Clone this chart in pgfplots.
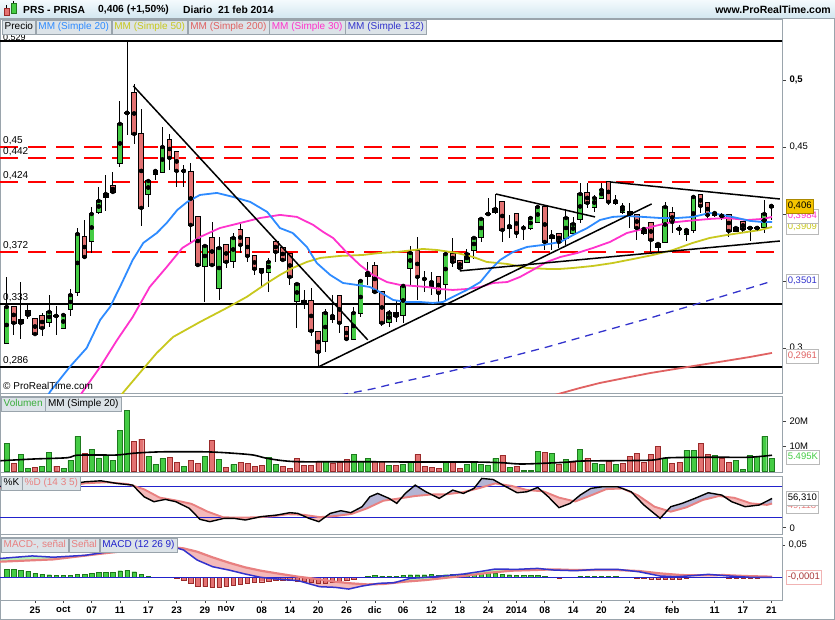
\documentclass[border=0pt]{standalone}
\usepackage{pgfplots}
\pgfplotsset{compat=1.18}
\usepackage{pgfplotstable}
\usepgfplotslibrary{fillbetween}
\usepackage{fontspec}
\setmainfont{Liberation Sans}

\definecolor{cgreen}{HTML}{44CC44}
\definecolor{cgreenD}{HTML}{1E7A1E}
\definecolor{cred}{HTML}{E37272}
\definecolor{credD}{HTML}{9A2A2A}
\definecolor{ma20}{HTML}{2E8BFF}
\definecolor{ma50}{HTML}{C8C81E}
\definecolor{ma200}{HTML}{E06262}
\definecolor{ma30}{HTML}{FF33CC}
\definecolor{ma132}{HTML}{3333CC}
\definecolor{frame}{HTML}{9AA4AC}
\definecolor{legbg}{HTML}{DCE3E8}
\definecolor{salmon}{HTML}{E88080}
\definecolor{kfill}{HTML}{B4B4D4}
\definecolor{dfill}{HTML}{F4BABA}
\definecolor{mfill}{HTML}{B8F2B8}
\definecolor{gold}{HTML}{F5C400}
\definecolor{lblue}{HTML}{2222CC}
\definecolor{hdrtop}{HTML}{F4FAFD}
\definecolor{hdrbot}{HTML}{D3E7F0}
\definecolor{dred}{HTML}{FF0000}

\pgfplotstableread{
i o h l c
-4 0.3037 0.3530 0.3037 0.3306
2 0.3194 0.3395 0.3157 0.3269
3 0.3239 0.3313 0.3097 0.3239
4 0.3149 0.3246 0.3149 0.3246
5 0.3291 0.3440 0.3239 0.3395
6 0.3418 0.3895 0.3388 0.3851
8 0.3798 0.4052 0.3709 0.4000
9 0.4015 0.4201 0.4000 0.4097
10 0.4127 0.4291 0.4022 0.4149
12 0.4381 0.4843 0.4351 0.4672
13 0.4754 0.5291 0.4590 0.4754
16 0.4149 0.4254 0.4052 0.4246
17 0.4298 0.4321 0.4254 0.4321
18 0.4313 0.4649 0.4313 0.4500
21 0.4321 0.4366 0.4201 0.4321
24 0.3612 0.3761 0.3343 0.3761
26 0.3448 0.3828 0.3358 0.3746
28 0.3649 0.3858 0.3597 0.3821
33 0.3567 0.3672 0.3418 0.3642
37 0.3351 0.3477 0.3149 0.3477
41 0.3052 0.3291 0.2970 0.3261
42 0.3216 0.3395 0.3187 0.3239
45 0.3067 0.3306 0.3067 0.3261
46 0.3261 0.3507 0.3231 0.3500
47 0.3537 0.3642 0.3470 0.3560
50 0.3194 0.3284 0.3157 0.3261
52 0.3246 0.3463 0.3187 0.3463
53 0.3597 0.3761 0.3470 0.3709
55 0.3515 0.3575 0.3418 0.3515
56 0.3463 0.3567 0.3395 0.3492
58 0.3477 0.3701 0.3358 0.3701
61 0.3642 0.3739 0.3642 0.3701
62 0.3731 0.3821 0.3664 0.3821
63 0.3828 0.3963 0.3791 0.3963
64 0.4000 0.4119 0.3992 0.4000
65 0.4015 0.4149 0.4000 0.4037
67 0.3895 0.3992 0.3821 0.3910
69 0.3895 0.3918 0.3806 0.3895
70 0.3895 0.3970 0.3880 0.3970
71 0.3940 0.4052 0.3940 0.4052
73 0.3821 0.3880 0.3731 0.3836
75 0.3821 0.4037 0.3769 0.3970
76 0.3858 0.3978 0.3858 0.3925
77 0.3963 0.4231 0.3933 0.4149
79 0.4052 0.4142 0.4015 0.4119
80 0.4119 0.4231 0.4119 0.4179
82 0.4082 0.4142 0.4067 0.4097
83 0.4015 0.4082 0.4000 0.4052
86 0.3858 0.3888 0.3843 0.3888
88 0.3754 0.3776 0.3716 0.3776
89 0.3791 0.4090 0.3791 0.4052
91 0.3888 0.3918 0.3843 0.3888
92 0.3851 0.3880 0.3798 0.3880
93 0.3880 0.4127 0.3858 0.4127
96 0.3992 0.4015 0.3978 0.4007
97 0.3985 0.4007 0.3955 0.3985
99 0.3873 0.3895 0.3866 0.3895
101 0.3895 0.3895 0.3798 0.3895
102 0.3895 0.3910 0.3880 0.3895
103 0.3903 0.4104 0.3858 0.4000
104 0.4052 0.4060 0.3955 0.4060
}\up

\pgfplotstableread{
i o h l c
-3 0.3306 0.3306 0.3097 0.3187
-2 0.3209 0.3492 0.3067 0.3187
-1 0.3276 0.3321 0.3216 0.3246
0 0.3216 0.3216 0.3104 0.3104
1 0.3239 0.3261 0.3089 0.3149
7 0.3828 0.3955 0.3664 0.3679
11 0.4209 0.4313 0.4149 0.4164
14 0.4903 0.4970 0.4522 0.4597
15 0.4597 0.4784 0.3910 0.4045
19 0.4552 0.4597 0.4328 0.4418
20 0.4463 0.4463 0.4201 0.4321
22 0.4313 0.4381 0.3776 0.3918
23 0.3978 0.3978 0.3619 0.3619
25 0.3821 0.3940 0.3604 0.3619
27 0.3769 0.3769 0.3597 0.3642
29 0.3880 0.3940 0.3709 0.3769
30 0.3821 0.3821 0.3642 0.3686
31 0.3686 0.3686 0.3545 0.3590
32 0.3590 0.3590 0.3448 0.3567
34 0.3791 0.3791 0.3642 0.3716
35 0.3746 0.3746 0.3657 0.3657
36 0.3701 0.3701 0.3470 0.3530
38 0.3351 0.3433 0.3291 0.3336
39 0.3351 0.3448 0.3089 0.3127
40 0.3119 0.3119 0.2858 0.2970
43 0.3388 0.3395 0.3112 0.3187
44 0.3157 0.3157 0.3067 0.3067
48 0.3612 0.3642 0.3403 0.3418
49 0.3418 0.3425 0.3164 0.3187
51 0.3261 0.3351 0.3194 0.3239
54 0.3724 0.3828 0.3358 0.3530
57 0.3530 0.3530 0.3343 0.3410
59 0.3701 0.3821 0.3604 0.3642
60 0.3649 0.3649 0.3597 0.3597
66 0.4090 0.4090 0.3791 0.3880
68 0.4000 0.4000 0.3821 0.3858
72 0.4052 0.4052 0.3731 0.3791
74 0.3851 0.3851 0.3746 0.3791
78 0.4157 0.4231 0.4045 0.4082
81 0.4239 0.4239 0.4067 0.4090
84 0.4015 0.4082 0.3895 0.4000
85 0.3992 0.3992 0.3806 0.3895
87 0.3933 0.3933 0.3716 0.3806
90 0.4007 0.4052 0.3858 0.3940
94 0.4142 0.4149 0.4007 0.4060
95 0.4082 0.4082 0.3955 0.3992
98 0.3992 0.3992 0.3828 0.3873
100 0.3940 0.3940 0.3866 0.3888
}\dn

% Stochastic %K and %D
\pgfplotstableread{
x y
-4.9 79.5
1.1 73.7
4.1 82.0
7.1 88.4
9.3 90.3
11.6 85.2
13.8 82.0
15.4 59.6
16.8 50.1
18.4 54.5
19.9 50.1
21.8 37.3
23.3 16.2
24.7 11.7
26.7 18.1
28.1 18.1
29.7 14.9
31.9 21.3
34.2 24.5
36.0 29.0
37.1 27.7
38.7 18.1
40.1 11.7
41.7 27.7
43.2 32.8
44.6 29.0
46.2 40.5
47.3 59.6
48.4 66.0
50.0 56.5
51.1 46.9
52.3 66.0
53.7 82.0
55.2 69.2
57.1 56.5
59.0 72.4
60.5 66.0
62.0 75.6
63.1 94.8
64.7 92.8
66.1 82.0
68.1 67.3
69.5 69.2
71.0 77.5
72.5 59.6
74.0 38.6
75.6 46.9
77.0 62.8
78.5 75.6
80.1 78.8
82.3 78.8
84.2 69.2
86.0 43.7
88.3 18.1
89.8 40.5
91.4 46.9
93.2 56.5
95.1 67.3
97.0 62.8
98.4 50.1
100.3 40.5
102.3 43.7
104.1 56.3
}\stK

\pgfplotstableread{
x y
-4.9 77.0
1.1 76.0
4.1 79.0
7.1 85.5
10.1 87.5
13.1 84.0
15.4 74.0
17.6 58.0
19.9 52.5
22.1 46.0
24.4 30.9
26.6 20.0
28.9 19.5
31.2 20.0
33.4 22.0
35.7 26.0
37.9 25.0
40.2 20.5
42.4 22.5
44.7 26.5
46.9 37.3
49.2 52.0
51.5 56.5
53.7 61.0
56.0 64.0
58.2 64.5
60.5 68.5
62.7 76.0
65.0 85.2
67.3 80.5
69.5 72.5
71.8 70.0
74.0 58.0
76.3 50.5
78.5 62.0
80.7 74.3
83.0 75.5
85.2 62.0
87.5 40.5
89.8 30.9
92.0 39.2
94.3 53.3
96.6 61.0
98.8 57.5
101.1 46.9
103.4 44.0
104.1 46.5
}\stD

% MACD line and signal
\pgfplotstableread{
x y
-4.94 0.0290
-0.4 0.0330
2.6 0.0310
7.1 0.0340
10.1 0.0390
13 0.0460
16 0.0500
19 0.0490
21.0 0.0422
22.9 0.0266
25.1 0.0161
27.4 0.0109
29.7 0.0047
31.9 -0.0005
34.2 -0.0031
37.2 -0.0057
40.2 -0.0151
42.4 -0.0161
44.3 -0.0188
46.2 -0.0141
48.5 -0.0099
50.7 -0.0089
53.0 -0.0021
55.2 -0.0005
57.5 0.0016
60.5 0.0047
62.7 0.0083
65.0 0.0125
68.0 0.0120
71.0 0.0135
73.3 0.0109
76.3 0.0099
79.3 0.0120
82.3 0.0120
85.3 0.0083
88.3 0.0016
90.6 0.0005
92.8 0.0021
95.1 0.0042
98.1 0.0016
101.1 -0.0005
104.1 -0.0004
}\macdM

\pgfplotstableread{
x y
-4.94 0.0240
2.6 0.0276
10.1 0.0375
13 0.0410
16 0.0450
19 0.0470
21.0 0.0448
22.9 0.0396
25.1 0.0307
27.4 0.0224
29.7 0.0151
31.9 0.0099
34.2 0.0057
37.2 0.0005
40.2 -0.0036
42.4 -0.0073
44.7 -0.0099
46.9 -0.0115
49.2 -0.0109
52.2 -0.0073
55.2 -0.0047
58.2 -0.0010
61.2 0.0026
64.2 0.0068
67.3 0.0099
70.3 0.0109
73.3 0.0120
76.3 0.0109
79.3 0.0109
82.3 0.0109
85.3 0.0094
88.3 0.0057
91.3 0.0031
94.3 0.0026
97.3 0.0031
100.3 0.0016
104.1 0.0005
}\macdS

\pgfplotsset{
  panel/.style={scale only axis, width=782pt, xmin=-4.944, xmax=105.51,
    axis line style={draw=frame, line width=0.6pt},
    xtick=\empty, ytick pos=right, yticklabel pos=right,
    scaled y ticks=false, scaled x ticks=false,
    tick align=outside, major tick length=4pt,
    tick style={draw=black!75, line width=0.6pt},
    yticklabel style={font=\fontsize{9.5}{10}\selectfont},
    anchor=south west},
  wick/.style={only marks, mark=none, forget plot,
    error bars/.cd, y dir=both, y explicit, error mark=none,
    error bar style={black, line width=1pt}},
  body/.style={only marks, mark=none, forget plot,
    error bars/.cd, y dir=both, y explicit, error mark=none,
    error bar style={#1}},
  hline/.style={line width=1.6pt, black},
  rline/.style={line width=1.7pt, draw=dred, dash pattern=on 18pt off 10pt},
  tline/.style={line width=1.5pt, black},
}

\begin{document}
\begin{tikzpicture}
\path (0,0) rectangle (835pt,-620pt);
\begin{scope}[x=1pt,y=-1pt]
\shade[top color=hdrtop, bottom color=hdrbot] (0,0) rectangle (835,18);
\draw[frame, line width=0.6pt] (0,18.3) -- (835,18.3);
\draw[frame, line width=0.6pt] (834.3,18.3) -- (834.3,619.3) -- (0.3,619.3) -- (0.3,18.3);
\end{scope}

% ---------------- PRICE PANEL ----------------
\begin{axis}[panel, height=374pt, at={(0pt,-393pt)},
  ymin=0.2664, ymax=0.5455,
  ytick={0.3,0.35,0.4,0.45,0.5},
  yticklabels={{0,3},{},{},{0,45},{\bfseries 0,5}}]
\addplot[hline] coordinates {(-6,0.529) (106,0.529)};
\addplot[hline] coordinates {(-6,0.333) (106,0.333)};
\addplot[hline] coordinates {(-6,0.286) (106,0.286)};
\addplot[rline] coordinates {(-4.94,0.45) (106,0.45)};
\addplot[rline] coordinates {(-4.94,0.4418) (106,0.4418)};
\addplot[rline] coordinates {(-4.94,0.424) (106,0.424)};
\addplot[rline] coordinates {(-4.94,0.3718) (106,0.3718)};
% candles
\addplot[wick] table[x=i, y=c, y error plus expr=\thisrow{h}-\thisrow{c}, y error minus expr=\thisrow{c}-\thisrow{l}] {\up};
\addplot[wick] table[x=i, y=c, y error plus expr=\thisrow{h}-\thisrow{c}, y error minus expr=\thisrow{c}-\thisrow{l}] {\dn};
\addplot[body={black, line width=5.6pt}] table[x=i, y expr=(\thisrow{o}+\thisrow{c})/2, y error expr=abs(\thisrow{o}-\thisrow{c})/2+0.0006] {\up};
\addplot[body={black, line width=5.6pt}] table[x=i, y expr=(\thisrow{o}+\thisrow{c})/2, y error expr=abs(\thisrow{o}-\thisrow{c})/2+0.0006] {\dn};
\addplot[body={cgreen, line width=3.8pt}] table[x=i, y expr=(\thisrow{o}+\thisrow{c})/2, y error expr=abs(\thisrow{o}-\thisrow{c})/2] {\up};
\addplot[body={cred, line width=3.8pt}] table[x=i, y expr=(\thisrow{o}+\thisrow{c})/2, y error expr=abs(\thisrow{o}-\thisrow{c})/2] {\dn};
% MA 200
\addplot[ma200, line width=1.8pt] coordinates {(73.4,0.2649) (77.0,0.2702) (79.8,0.2739) (83.3,0.2776) (86.9,0.2813) (90.4,0.2843) (93.9,0.2873) (97.5,0.2903) (101.0,0.2933) (104.1,0.2963)};
% MA 132 dashed
\addplot[ma132, line width=1.3pt, dash pattern=on 8pt off 6pt] coordinates {(43.1,0.2649) (47.6,0.2694) (51.1,0.2739) (58.2,0.2821) (65.3,0.2910) (72.3,0.3007) (79.8,0.3119) (86.9,0.3224) (92.5,0.3313) (96.8,0.3381) (104.2,0.3500)};
% MA 50
\addplot[ma50, line width=1.8pt] coordinates {(10.6,0.2538) (12.4,0.2664) (14.8,0.2814) (17.2,0.2963) (19.5,0.3082) (23.3,0.3194) (27.1,0.3299) (29.9,0.3381) (32.8,0.3485) (34.6,0.3545) (36.4,0.3597) (38.4,0.3642) (40.3,0.3672) (43.1,0.3687) (46.3,0.3694) (48.7,0.3709) (51.1,0.3716) (54.8,0.3739) (56.8,0.3731) (59.6,0.3709) (61.9,0.3679) (63.8,0.3642) (66.7,0.3627) (69.5,0.3597) (72.3,0.3590) (74.2,0.3590) (76.0,0.3597) (78.8,0.3612) (81.6,0.3634) (84.5,0.3664) (87.3,0.3694) (90.1,0.3731) (92.9,0.3784) (95.3,0.3821) (97.7,0.3843) (100.6,0.3866) (102.4,0.3880) (104.1,0.3903)};
% MA 30
\addplot[ma30, line width=1.8pt] coordinates {(5.6,0.2538) (6.6,0.2664) (9.2,0.2858) (11.6,0.3060) (13.8,0.3231) (16.2,0.3455) (18.6,0.3604) (20.8,0.3746) (23.3,0.3828) (26.1,0.3895) (29.0,0.3933) (31.8,0.3970) (34.6,0.3993) (37.0,0.3978) (39.3,0.3918) (40.7,0.3866) (42.1,0.3821) (44.1,0.3709) (45.9,0.3619) (47.7,0.3545) (49.7,0.3492) (51.6,0.3470) (53.4,0.3463) (55.4,0.3455) (57.2,0.3440) (59.0,0.3433) (61.0,0.3440) (62.9,0.3455) (64.7,0.3485) (66.7,0.3492) (68.5,0.3530) (70.3,0.3582) (72.3,0.3642) (74.2,0.3679) (76.6,0.3709) (78.8,0.3746) (81.2,0.3791) (83.6,0.3858) (86.4,0.3895) (89.3,0.3933) (92.1,0.3948) (95.3,0.3963) (97.7,0.3970) (100.6,0.3955) (102.8,0.3963) (104.1,0.3978)};
% MA 20
\addplot[ma20, line width=1.8pt] coordinates {(0.7,0.2538) (2.1,0.2672) (4.9,0.2858) (7.3,0.3000) (9.2,0.3209) (10.6,0.3306) (12.0,0.3455) (13.8,0.3657) (15.3,0.3784) (17.2,0.3858) (18.6,0.3933) (20.1,0.4030) (21.5,0.4090) (23.3,0.4142) (25.7,0.4157) (28.0,0.4127) (30.4,0.4090) (32.8,0.4015) (34.6,0.3895) (36.4,0.3858) (38.4,0.3754) (39.8,0.3634) (41.7,0.3545) (43.5,0.3485) (45.5,0.3470) (47.3,0.3455) (48.7,0.3418) (50.6,0.3358) (52.5,0.3343) (54.4,0.3343) (56.2,0.3336) (57.6,0.3343) (59.0,0.3381) (61.0,0.3433) (62.9,0.3492) (64.3,0.3582) (65.7,0.3657) (67.5,0.3716) (69.5,0.3754) (71.8,0.3769) (74.2,0.3791) (76.0,0.3843) (78.0,0.3895) (79.8,0.3955) (81.6,0.3978) (83.6,0.3985) (85.9,0.3978) (88.3,0.3970) (90.7,0.3970) (92.9,0.3978) (95.3,0.4007) (97.2,0.3992) (99.2,0.3970) (101.0,0.3948) (102.8,0.3940) (104.1,0.3940)};
% trend lines
\addplot[tline] coordinates {(13.9,0.4955) (47.0,0.3060)};
\addplot[tline] coordinates {(40.0,0.2858) (87.1,0.4075)};
\addplot[tline] coordinates {(65.1,0.4149) (79.1,0.3978)};
\addplot[tline] coordinates {(60.0,0.3575) (105.2,0.3798)};
\addplot[tline] coordinates {(81.2,0.4239) (105.2,0.4112)};
\end{axis}

% ---------------- VOLUME PANEL ----------------
\begin{axis}[panel, height=76pt, at={(0pt,-472pt)},
  ymin=-0.4, ymax=30, ytick={10,20}, yticklabels={10M,20M}]
\addplot[ybar, bar width=5pt, bar shift=0pt, fill=cgreen, draw=cgreenD, line width=0.4pt] coordinates {(-4,11.1) (-2,6.7) (-1,1.1) (1,1.9) (2,7.5) (4,1.1) (5,4.3) (6,13.9) (8,8.8) (9,5.3) (10,6.4) (11,4.3) (12,16.4) (13,24.3) (16,5.9) (17,2.7) (18,5.1) (21,2.0) (24,5.9) (26,4.7) (28,2.7) (33,5.5) (34,2.7) (41,3.9) (45,6.7) (46,3.9) (47,5.1) (50,2.3) (52,2.7) (53,3.9) (58,3.5) (61,2.7) (62,3.7) (63,2.7) (64,2.3) (65,5.1) (67,1.5) (69,0.3) (70,0.3) (71,7.9) (73,7.1) (75,4.7) (77,8.7) (79,3.1) (80,2.7) (82,2.7) (89,5.1) (92,8.3) (93,8.3) (96,6.3) (99,4.3) (100,0.7) (101,6.3) (102,5.9) (103,13.9) (104,5.1)};
\addplot[ybar, bar width=5pt, bar shift=0pt, fill=cred, draw=credD, line width=0.4pt] coordinates {(-3,3.1) (0,1.5) (3,2.0) (7,7.1) (14,11.9) (15,12.8) (19,5.5) (20,3.5) (22,4.3) (23,3.1) (25,12.4) (27,1.6) (29,3.5) (30,3.1) (31,2.0) (32,2.3) (35,2.0) (36,1.1) (37,5.1) (38,2.3) (39,2.3) (40,3.9) (42,3.3) (43,3.7) (44,4.7) (48,3.9) (49,3.9) (51,2.3) (54,6.7) (55,1.9) (56,1.5) (57,1.1) (59,3.5) (60,1.1) (66,6.3) (68,1.9) (72,7.5) (74,2.7) (76,3.5) (78,5.1) (81,3.9) (83,3.1) (84,5.9) (85,7.1) (86,3.5) (87,6.7) (88,9.9) (90,3.1) (91,3.5) (94,11.1) (95,6.7) (97,5.1) (98,3.5)};
\addplot[black, line width=1.6pt, smooth] coordinates {(-4.9,4.1) (-0.2,4.8) (4.5,5.3) (5.9,6.3) (9.2,6.4) (11.6,6.4) (13.9,7.1) (16.2,7.5) (18.6,7.7) (23.3,7.7) (25.7,7.5) (28.0,7.1) (30.8,6.4) (32.7,5.1) (35.1,4.1) (37.4,3.7) (42.1,3.7) (46.9,3.7) (53.2,3.6) (62,3.6) (66,3.3) (68.9,2.8) (74.9,3.5) (77.3,4.0) (86.7,4.3) (89.5,5.3) (96.1,5.5) (100.8,5.5) (104.1,6.3)};
\end{axis}

% ---------------- STOCHASTIC PANEL ----------------
\begin{axis}[panel, height=58pt, at={(0pt,-534pt)},
  ymin=-12, ymax=99.5, ytick={0}, yticklabels={0}]
\addplot[name path=K, draw=none, forget plot] table {\stK};
\addplot[name path=D, draw=none, forget plot] table {\stD};
\addplot[fill=kfill, draw=none] fill between[of=K and D];
\addplot[fill=dfill, draw=none] fill between[of=K and D, soft clip={domain=-2:3}];
\addplot[fill=dfill, draw=none] fill between[of=K and D, soft clip={domain=14:31.5}];
\addplot[fill=dfill, draw=none] fill between[of=K and D, soft clip={domain=37.8:41}];
\addplot[fill=dfill, draw=none] fill between[of=K and D, soft clip={domain=50.3:51.6}];
\addplot[fill=dfill, draw=none] fill between[of=K and D, soft clip={domain=56.2:58}];
\addplot[fill=dfill, draw=none] fill between[of=K and D, soft clip={domain=60:61.7}];
\addplot[fill=dfill, draw=none] fill between[of=K and D, soft clip={domain=65.9:70.3}];
\addplot[fill=dfill, draw=none] fill between[of=K and D, soft clip={domain=71.9:76.4}];
\addplot[fill=dfill, draw=none] fill between[of=K and D, soft clip={domain=84.3:89.1}];
\addplot[fill=dfill, draw=none] fill between[of=K and D, soft clip={domain=97.6:102.8}];
\addplot[lblue, line width=0.9pt] coordinates {(-6,80) (106,80)};
\addplot[lblue, line width=0.9pt] coordinates {(-6,20) (106,20)};
\addplot[salmon, line width=1.9pt] table {\stD};
\addplot[black, line width=1.4pt] table {\stK};
\end{axis}

% ---------------- MACD PANEL ----------------
\begin{axis}[panel, height=62.5pt, at={(0pt,-600pt)},
  ymin=-0.0359, ymax=0.0618, ytick={0.05}, yticklabel={0{,}05},
  xtick={0,4,8,12,16,20,24,27,32,36,40,44,48,52,56,60,64,68,72,76,80,84,90,96,100,104},
  xticklabels={25,oct,07,11,17,23,29,nov,08,14,20,26,dic,06,12,18,24,2014,08,14,20,24,feb,11,17,21},
  xtick pos=left, major tick length=3pt,
  xticklabel style={font=\bfseries\fontsize{9.5}{10}\selectfont}]
\addplot[name path=M, draw=none, forget plot] table {\macdM};
\addplot[name path=S, draw=none, forget plot] table {\macdS};
\addplot[fill=mfill, draw=none] fill between[of=M and S];
\addplot[fill=dfill, draw=none] fill between[of=M and S, soft clip={domain=20:47.8}];
\addplot[fill=dfill, draw=none] fill between[of=M and S, soft clip={domain=72.3:77.8}];
\addplot[fill=dfill, draw=none] fill between[of=M and S, soft clip={domain=84:93.8}];
\addplot[fill=dfill, draw=none] fill between[of=M and S, soft clip={domain=96.8:104.1}];
\addplot[ybar, bar width=4.4pt, bar shift=0pt, fill=cgreen, draw=cgreenD, line width=0.4pt] coordinates {(-4,0.0120) (-3,0.0115) (-2,0.0109) (-1,0.0089) (0,0.0057) (1,0.0047) (2,0.0036) (3,0.0026) (4,0.0021) (5,0.0021) (6,0.0047) (7,0.0047) (8,0.0057) (9,0.0073) (10,0.0068) (11,0.0078) (12,0.0099) (13,0.0109) (14,0.0083) (15,0.0042) (16,0.0016) (47,0.0016) (48,0.0026) (49,0.0016) (50,0.0016) (51,0.0016) (52,0.0026) (53,0.0036) (54,0.0036) (55,0.0036) (56,0.0042) (57,0.0031) (58,0.0036) (59,0.0042) (60,0.0042) (61,0.0042) (62,0.0042) (63,0.0057) (64,0.0057) (65,0.0057) (66,0.0047) (67,0.0036) (68,0.0026) (69,0.0026) (70,0.0026) (71,0.0026) (72,0.0016) (77,0.0016) (78,0.0016) (79,0.0016) (80,0.0016) (81,0.0016) (82,0.0016)};
\addplot[ybar, bar width=4.4pt, bar shift=0pt, fill=cred, draw=credD, line width=0.4pt] coordinates {(19,-0.0010) (20,-0.0021) (21,-0.0047) (22,-0.0099) (23,-0.0141) (24,-0.0151) (25,-0.0161) (26,-0.0156) (27,-0.0146) (28,-0.0130) (29,-0.0115) (30,-0.0099) (31,-0.0083) (32,-0.0073) (33,-0.0063) (34,-0.0057) (35,-0.0057) (36,-0.0057) (37,-0.0063) (38,-0.0068) (39,-0.0083) (40,-0.0099) (41,-0.0094) (42,-0.0083) (43,-0.0068) (44,-0.0052) (45,-0.0036) (74,-0.0016) (85,-0.0016) (86,-0.0021) (87,-0.0026) (88,-0.0036) (89,-0.0031) (90,-0.0031) (91,-0.0031) (92,-0.0021) (93,-0.0010) (98,-0.0016) (99,-0.0016) (100,-0.0016) (101,-0.0016) (102,-0.0016) (103,-0.0005)};
\addplot[lblue, line width=0.9pt] coordinates {(-6,0) (106,0)};
\addplot[salmon, line width=2.2pt] table {\macdS};
\addplot[ma132, line width=1.5pt] table {\macdM};
\end{axis}

% ---------------- OVERLAY TEXT ----------------
\begin{scope}[x=1pt,y=-1pt,
  leg/.style={draw=frame, fill=legbg, anchor=north west, minimum height=14pt, inner xsep=2.5pt, inner ysep=0pt, text height=7.4pt, text depth=2pt, font=\fontsize{10}{11}\selectfont},
  rb/.style={draw=gray!55, fill=white, anchor=west, inner xsep=1.6pt, inner ysep=0pt, minimum height=14pt, text height=7pt, text depth=1.8pt, font=\fontsize{9.5}{10}\selectfont},
  ll/.style={anchor=west, inner sep=0pt, font=\fontsize{10}{11}\selectfont}]
% header
\fill[cred] (4,8) rectangle (9,15); \draw[credD, line width=0.5pt] (4,8) rectangle (9,15); \draw[black, line width=0.6pt] (6.5,5) -- (6.5,8);
\fill[cgreen] (11,3) rectangle (16,13); \draw[cgreenD, line width=0.5pt] (11,3) rectangle (16,13); \draw[black, line width=0.6pt] (13.5,1) -- (13.5,3);
\node[anchor=west, inner sep=0pt, font=\bfseries\fontsize{10.3}{11}\selectfont] at (23,10) {PRS - PRISA};
\node[anchor=west, inner sep=0pt, font=\bfseries\fontsize{10.3}{11}\selectfont] at (98,10) {0,406 (+1,50\%)};
\node[anchor=west, inner sep=0pt, font=\bfseries\fontsize{10.3}{11}\selectfont] at (183,10) {Diario\ \ 21 feb 2014};
\node[anchor=east, inner sep=0pt, font=\bfseries\fontsize{10.5}{11}\selectfont] at (831,10) {www.ProRealTime.com};
% left labels on lines
\node[ll, font=\fontsize{9}{10}\selectfont] at (3,37.6) {0,529};
\node[ll] at (3,141) {0,45};
\node[ll] at (3,152) {0,442};
\node[ll] at (3,176) {0,424};
\node[ll] at (3,246) {0,372};
\node[ll] at (3,297.5) {0,333};
\node[ll] at (3,361) {0,286};
\node[ll] at (3,386) {\textcopyright\ ProRealTime.com};
% price legend
\node[leg] (a1) at (2,20) {Precio};
\node[leg, text=ma20] (a2) at (a1.north east) {MM (Simple 20)};
\node[leg, text=ma50] (a3) at (a2.north east) {MM (Simple 50)};
\node[leg, text=ma200] (a4) at (a3.north east) {MM (Simple 200)};
\node[leg, text=ma30] (a5) at (a4.north east) {MM (Simple 30)};
\node[leg, text=ma132] (a6) at (a5.north east) {MM (Simple 132)};
% volume legend
\node[leg, text=cgreen!85!black] (b1) at (1,397) {Volumen};
\node[leg] (b2) at (b1.north east) {MM (Simple 20)};
% stochastic legend
\node[leg] (c1) at (1,476) {\%K};
\node[leg, text=salmon] (c2) at (c1.north east) {\%D (14 3 5)};
% macd legend
\node[leg, text=salmon] (d1) at (1,538) {MACD-, se\~nal};
\node[leg, text=salmon] (d2) at (d1.north east) {Se\~nal};
\node[leg, text=lblue] (d3) at (d2.north east) {MACD (12 26 9)};
% right value boxes
\node[rb, text=ma200] at (786,356) {0,2961};
\node[rb, text=ma132] at (786,281) {0,3501};
\node[rb, text=ma50] at (786,227) {0,3909};
\node[rb, text=ma30] at (786,216) {0,3984};
\node[rb, fill=gold, draw=gold!70!black] at (786,206) {0,406};
\node[rb, text=cgreen] at (786,457) {5.495K};
\node[rb, text=salmon] at (786,506) {49,118};
\node[rb] at (786,498) {56,310};
\node[rb, text=credD!80!salmon, draw=salmon!60] at (786,577) {-0,0001};
\end{scope}
\pgfresetboundingbox
\useasboundingbox (0,0) rectangle (835pt,-620pt);
\end{tikzpicture}
\end{document}
